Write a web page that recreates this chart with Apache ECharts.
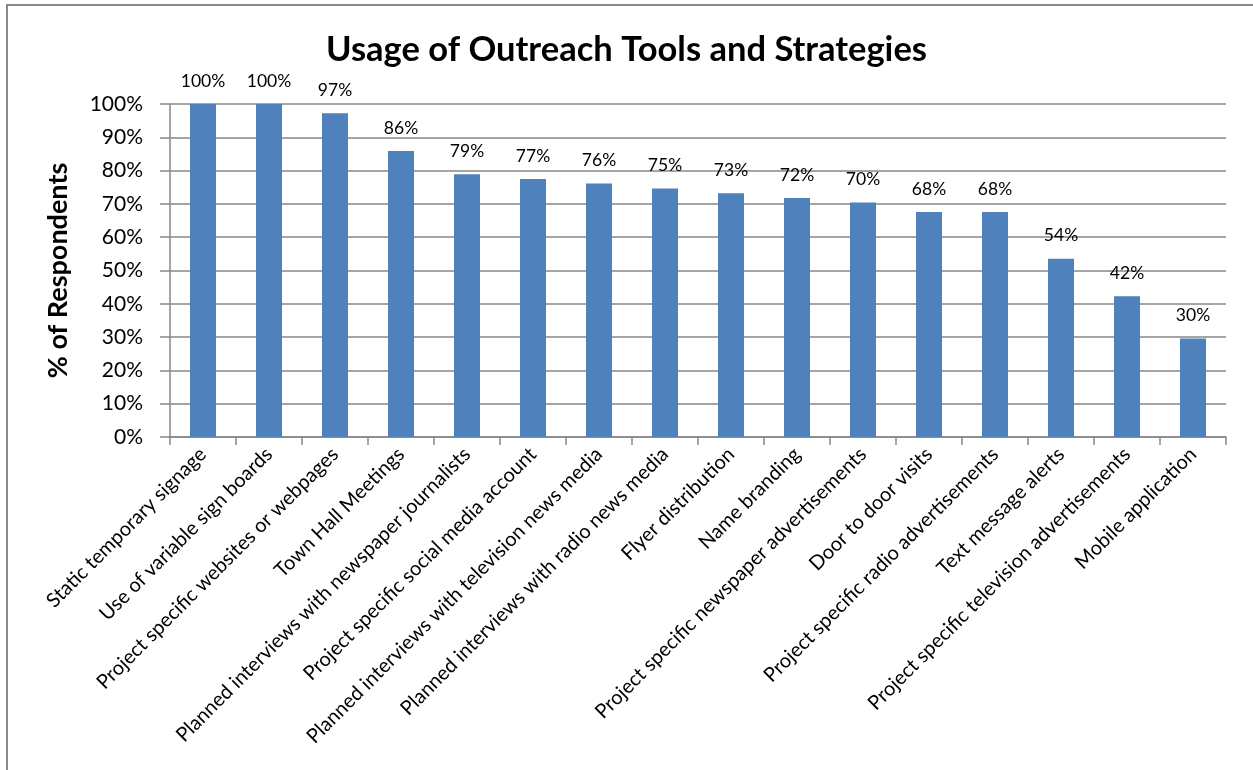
<!DOCTYPE html>
<html>
<head>
<meta charset="utf-8">
<script src="https://cdn.jsdelivr.net/npm/echarts@6/dist/echarts.min.js"></script>
<style>
html,body{margin:0;padding:0;background:#fff;}
#chart{width:1253px;height:770px;}
</style>
</head>
<body>
<div id="chart"></div>
<script>
const categories = [
  "Static temporary signage",
  "Use of variable sign boards",
  "Project specific websites or webpages",
  "Town Hall Meetings",
  "Planned interviews with newspaper journalists",
  "Project specific social media account",
  "Planned interviews with television news media",
  "Planned interviews with radio news media",
  "Flyer distribution",
  "Name branding",
  "Project specific newspaper advertisements",
  "Door to door visits",
  "Project specific radio advertisements",
  "Text message alerts",
  "Project specific television advertisements",
  "Mobile application"
];
const values = [100, 100, 97.2, 85.9, 78.9, 77.46, 76.1, 74.6, 73.2, 71.8, 70.4, 67.6, 67.6, 53.5, 42.3, 29.6];
const yTicks = [0, 10, 20, 30, 40, 50, 60, 70, 80, 90, 100];

const chart = echarts.init(document.getElementById('chart'), null, {renderer: 'canvas'});
const FONT = 'Lato';
const grey = '#878787';
chart.setOption({
  animation: false,
  backgroundColor: '#ffffff',
  title: {
    text: 'Usage of Outreach Tools and Strategies',
    left: 'center',
    top: 27,
    textStyle: {fontFamily: FONT, fontWeight: 'bold', fontSize: 34.5, color: '#000'}
  },
  graphic: [{
    type: 'rect',
    shape: {x: 7, y: 5, width: 1300, height: 820},
    style: {fill: 'none', stroke: '#898989', lineWidth: 2},
    silent: true
  }],
  grid: {left: 170, right: 27, top: 104, bottom: 333, containLabel: false},
  xAxis: {
    type: 'category',
    data: categories,
    axisLine: {lineStyle: {color: grey, width: 1.5}},
    axisTick: {show: true, length: 8, lineStyle: {color: grey, width: 1.5}},
    axisLabel: {
      rotate: 45, interval: 0, margin: 14,
      fontFamily: FONT, fontSize: 20, color: '#000'
    }
  },
  yAxis: {
    type: 'value',
    min: 0, max: 100, interval: 10,
    name: '% of Respondents',
    nameLocation: 'middle',
    nameGap: 98,
    nameRotate: 90,
    nameTextStyle: {fontFamily: FONT, fontWeight: 'bold', fontSize: 27, color: '#000'},
    axisLine: {show: true, lineStyle: {color: grey, width: 1.5}},
    axisTick: {show: true, length: 10, lineStyle: {color: grey, width: 1.5}},
    splitLine: {show: true, lineStyle: {color: grey, width: 1.5}},
    axisLabel: {
      margin: 27, fontFamily: FONT, fontSize: 21, color: '#000',
      formatter: v => yTicks.includes(v) ? v + '%' : ''
    }
  },
  series: [{
    type: 'bar',
    data: values,
    barWidth: 26,
    itemStyle: {color: '#4F81BD'},
    label: {
      show: true, position: 'top', distance: 14,
      fontFamily: FONT, fontSize: 17.5, color: '#000',
      formatter: p => Math.round(p.value) + '%'
    }
  }]
});
</script>
</body>
</html>
